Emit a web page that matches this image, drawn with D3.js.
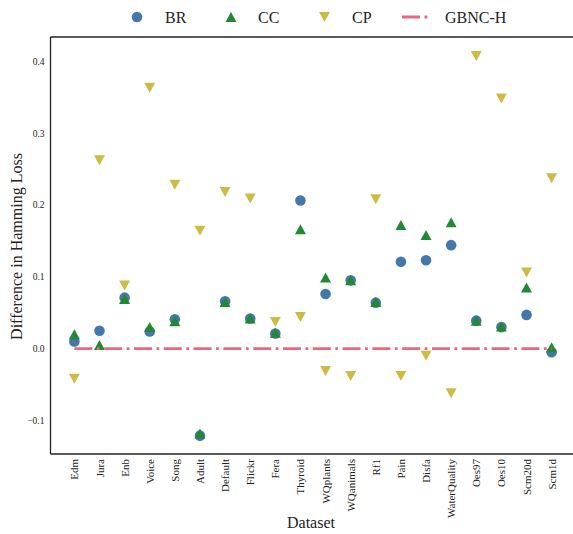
<!DOCTYPE html>
<html>
<head>
<meta charset="utf-8">
<script src="https://cdn.jsdelivr.net/npm/d3@7"></script>
<style>
  html, body { margin: 0; padding: 0; background: #fff; }
  svg { display: block; }
  text { font-family: "Liberation Serif", "DejaVu Serif", serif; fill: #222; }
</style>
</head>
<body>
<svg id="chart" width="573" height="534"></svg>
<script>
// Datasets along the x axis
const datasets = ["Edm", "Jura", "Enb", "Voice", "Song", "Adult", "Default", "Flickr", "Fera",
  "Thyroid", "WQplants", "WQanimals", "Rf1", "Pain", "Disfa", "WaterQuality", "Oes97",
  "Oes10", "Scm20d", "Scm1d"];

// Difference in Hamming loss of each method relative to GBNC-H
const brValues = [0.010, 0.025, 0.071, 0.024, 0.041, -0.121, 0.066, 0.042, 0.021,
  0.206, 0.076, 0.095, 0.064, 0.121, 0.123, 0.144, 0.039, 0.030, 0.047, -0.005];
const ccValues = [0.020, 0.005, 0.069, 0.030, 0.038, -0.118, 0.065, 0.042, 0.022,
  0.166, 0.099, 0.095, 0.065, 0.172, 0.158, 0.176, 0.039, 0.031, 0.085, 0.002];
const cpValues = [-0.042, 0.262, 0.088, 0.363, 0.228, 0.164, 0.218, 0.209, 0.037,
  0.044, -0.031, -0.038, 0.208, -0.038, -0.010, -0.062, 0.407, 0.348, 0.106, 0.237];
const baselineValues = datasets.map(() => 0);

const yTicks = [-0.1, 0.0, 0.1, 0.2, 0.3, 0.4];
const legendLabels = ["BR", "CC", "CP", "GBNC-H"];

const colors = { BR: "#4477AA", CC: "#228833", CP: "#CCBB44", GBNC: "#EE6677" };

const svg = d3.select("#chart");
const plot = { left: 50.5, right: 575.5, top: 37, bottom: 454 };

const x = d3.scaleLinear().domain([-0.95, datasets.length - 1 + 0.95]).range([plot.left, plot.right]);
const y = d3.scaleLinear().domain([-0.1465, 0.4335]).range([plot.bottom, plot.top]);

// Marker shapes (centred on their bounding box)
const triW = 11, triH = 10;
const triUp = `M0,${-triH / 2}L${triW / 2},${triH / 2}L${-triW / 2},${triH / 2}Z`;
const triDown = `M0,${triH / 2}L${triW / 2},${-triH / 2}L${-triW / 2},${-triH / 2}Z`;
const dashPattern = "18,4.5,2.8,4.5";

// Y axis
const yAxis = svg.append("g")
  .attr("transform", `translate(${plot.left},0)`)
  .call(d3.axisLeft(y).tickValues(yTicks).tickSize(0).tickPadding(6).tickFormat(d3.format(".1f")));
yAxis.select(".domain").remove();
yAxis.selectAll("text").style("font-size", "9.5px").style("font-family", "'Liberation Serif', serif").attr("fill", "#333");

// X axis (rotated dataset names)
const xAxis = svg.append("g")
  .attr("transform", `translate(0,${plot.bottom})`)
  .call(d3.axisBottom(x).tickValues(d3.range(datasets.length)).tickSize(0).tickFormat(i => datasets[i]));
xAxis.select(".domain").remove();
xAxis.selectAll("text")
  .style("font-size", "11px").style("font-family", "'Liberation Serif', serif").attr("fill", "#333")
  .attr("text-anchor", "end")
  .attr("dy", "0.32em")
  .attr("transform", "translate(0,5) rotate(-90)")
  .attr("x", 0).attr("y", 0);

// Frame
const frame = svg.append("g").attr("stroke", "#222").attr("stroke-width", 1.3).attr("fill", "none");
frame.append("line").attr("x1", plot.left).attr("x2", plot.left).attr("y1", plot.top).attr("y2", plot.bottom);
frame.append("line").attr("x1", plot.left).attr("x2", plot.right).attr("y1", plot.top).attr("y2", plot.top);
frame.append("line").attr("x1", plot.left).attr("x2", plot.right).attr("y1", plot.bottom).attr("y2", plot.bottom);

// Points
const marks = svg.append("g");
marks.selectAll(".br").data(brValues).join("circle")
  .attr("cx", (d, i) => x(i)).attr("cy", d => y(d)).attr("r", 5.3).attr("fill", colors.BR);
marks.selectAll(".cc").data(ccValues).join("path")
  .attr("d", triUp).attr("transform", (d, i) => `translate(${x(i)},${y(d)})`).attr("fill", colors.CC);
marks.selectAll(".cp").data(cpValues).join("path")
  .attr("d", triDown).attr("transform", (d, i) => `translate(${x(i)},${y(d)})`).attr("fill", colors.CP);

// GBNC-H reference line
svg.append("path")
  .datum(baselineValues)
  .attr("d", d3.line().x((d, i) => x(i)).y(d => y(d)))
  .attr("fill", "none").attr("stroke", colors.GBNC).attr("stroke-width", 2.8)
  .attr("stroke-dasharray", dashPattern);

// Axis titles
svg.append("text")
  .attr("transform", `translate(22,${(plot.top + plot.bottom) / 2 + 1}) rotate(-90)`)
  .attr("text-anchor", "middle").style("font-size", "16px")
  .text("Difference in Hamming Loss");
svg.append("text")
  .attr("x", 311).attr("y", 528)
  .attr("text-anchor", "middle").style("font-size", "16px")
  .text("Dataset");

// Legend
const legend = svg.append("g");
const legendX = [137, 231, 324.5, 402];
const legendY = 17;
legend.append("circle").attr("cx", legendX[0]).attr("cy", legendY).attr("r", 5.3).attr("fill", colors.BR);
legend.append("path").attr("d", triUp).attr("transform", `translate(${legendX[1]},${legendY})`).attr("fill", colors.CC);
legend.append("path").attr("d", triDown).attr("transform", `translate(${legendX[2]},${legendY})`).attr("fill", colors.CP);
legend.append("line").attr("x1", legendX[3]).attr("x2", legendX[3] + 29.8).attr("y1", legendY).attr("y2", legendY)
  .attr("stroke", colors.GBNC).attr("stroke-width", 2.8).attr("stroke-dasharray", dashPattern);
const textX = [165, 258, 352, 445];
legend.selectAll(".lbl").data(legendLabels).join("text")
  .attr("x", (d, i) => textX[i]).attr("y", legendY + 5.5)
  .style("font-size", "16px").text(d => d);
</script>
</body>
</html>
